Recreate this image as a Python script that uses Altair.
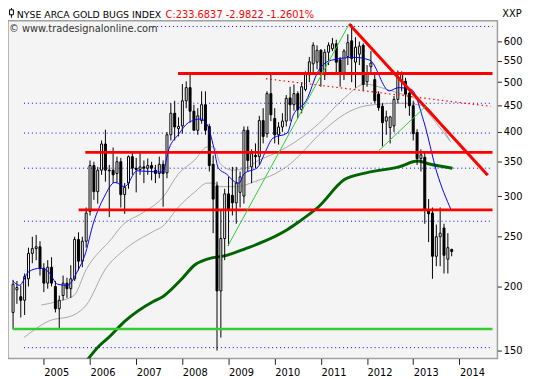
import altair as alt
import pandas as pd

# ---------------- data ----------------
months = [p.strftime("%Y-%m") for p in pd.period_range("2004-05", "2013-11", freq="M")]

opens = [178, 197, 191, 188, 207, 232, 237, 239,
         217, 203, 218, 200, 181, 192, 203, 198, 207, 247, 224, 245,
         280, 344, 306, 337, 379, 337, 337, 332, 350, 302, 318, 358,
         340, 338, 342, 340, 344, 337, 332, 346, 333, 395, 435, 406,
         411, 460, 488, 439, 403, 421, 452, 410, 346, 314, 196, 248,
         303, 301, 291, 305, 300, 403, 342, 360, 358, 421, 397, 475,
         425, 395, 409, 420, 466, 452, 475, 442, 484, 517, 543, 547,
         577, 517, 572, 581, 594, 553, 521, 561, 602, 547, 567, 590,
         501, 536, 506, 474, 449, 420, 408, 411, 463, 501, 502, 476,
         450, 399, 355, 357, 282, 278, 229, 250, 260, 226, 236]
highs = [206, 205, 201, 212, 238, 250, 252, 245,
         222, 225, 228, 205, 192, 210, 208, 220, 250, 255, 250, 285,
         352, 350, 342, 385, 404, 345, 373, 358, 356, 318, 360, 365,
         356, 365, 352, 355, 350, 345, 358, 352, 400, 455, 460, 427,
         496, 502, 518, 452, 445, 480, 480, 415, 360, 320, 282, 310,
         327, 342, 342, 335, 410, 410, 370, 380, 430, 445, 480, 518,
         445, 418, 435, 472, 490, 495, 480, 500, 525, 560, 598, 590,
         580, 580, 598, 610, 605, 560, 580, 620, 649, 612, 600, 595,
         540, 575, 520, 480, 455, 440, 430, 470, 527, 525, 510, 480,
         460, 405, 370, 365, 296, 285, 264, 285, 265, 254, 237]
lows = [165, 185, 174, 176, 200, 222, 225, 210,
        195, 198, 200, 178, 166, 188, 190, 190, 205, 215, 218, 238,
        275, 295, 290, 330, 320, 273, 318, 318, 285, 277, 310, 330,
        305, 330, 318, 330, 322, 318, 325, 286, 325, 385, 385, 392,
        397, 445, 417, 405, 395, 415, 395, 335, 254, 150, 159, 225,
        240, 275, 265, 285, 290, 335, 318, 340, 345, 380, 390, 420,
        380, 378, 400, 410, 420, 440, 425, 435, 480, 500, 520, 530,
        490, 505, 540, 575, 520, 490, 505, 540, 500, 488, 540, 480,
        490, 520, 455, 440, 375, 395, 380, 400, 455, 480, 445, 430,
        385, 345, 335, 265, 244, 207, 219, 219, 212, 212, 229]
closes = [202, 199, 188, 209, 232, 237, 239, 217,
          203, 218, 203, 181, 188, 203, 198, 207, 247, 224, 245, 278,
          344, 306, 337, 379, 337, 336, 330, 350, 302, 312, 358, 340,
          338, 342, 340, 344, 340, 332, 346, 332, 395, 435, 409, 410,
          460, 488, 439, 403, 430, 452, 403, 344, 296, 196, 248, 303,
          282, 291, 318, 327, 403, 352, 363, 358, 421, 392, 475, 432,
          395, 409, 420, 465, 452, 475, 442, 490, 517, 548, 590, 577,
          524, 572, 590, 594, 547, 521, 575, 597, 556, 585, 588, 495,
          521, 545, 460, 446, 417, 428, 428, 463, 512, 518, 474, 450,
          397, 355, 361, 282, 277, 229, 250, 254, 230, 238, 234]

# moving-average style lines: (decimal year, value) points
blue_t = [2004.33, 2004.47, 2004.68, 2004.92, 2005.09, 2005.30, 2005.50, 2005.75, 2005.88,
          2006.08, 2006.30, 2006.54, 2006.75, 2007.02, 2007.57, 2007.71, 2007.92, 2008.13,
          2008.40, 2008.54, 2008.68, 2008.78, 2008.96, 2009.13, 2009.23, 2009.33, 2009.64,
          2009.78, 2009.96, 2010.27, 2010.40, 2010.68, 2010.95, 2011.23, 2011.72, 2012.06,
          2012.48, 2012.68, 2012.96, 2013.23, 2013.51, 2013.82]
blue_v = [205, 201, 214, 217, 214, 202, 201, 216, 229,
          267, 298, 319, 313, 336, 334, 371, 396, 417,
          424, 413, 373, 340, 331, 320, 318, 331, 342,
          363, 389, 398, 431, 460, 527, 552, 559, 552,
          481, 488, 484, 419, 334, 282]

gray1_t = [2004.945, 2005.30, 2005.65, 2005.92, 2006.47, 2006.68, 2007.16, 2007.575, 2007.92,
           2008.26, 2008.54, 2008.68, 2008.82, 2009.09, 2009.37, 2009.645, 2009.99, 2010.27,
           2010.95, 2011.51, 2011.96, 2012.34, 2012.68, 2013.02, 2013.23, 2013.51, 2013.82]
gray1_v = [184, 187, 192, 216, 248, 262, 279, 298, 332,
           352, 374, 374, 347, 337, 340, 352, 363, 374,
           415, 466, 496, 487, 476, 466, 446, 415, 382]

gray2_t = [2004.57, 2005.09, 2005.65, 2005.92, 2006.33, 2006.75, 2007.37, 2007.575, 2007.92,
           2008.26, 2008.54, 2008.68, 2008.82, 2009.16, 2009.645, 2009.99, 2010.27, 2011.09,
           2011.51, 2011.98, 2012.68, 2013.23, 2013.51, 2013.79]
gray2_v = [159, 171, 176, 184, 216, 236, 256, 262, 286,
           305, 318, 318, 313, 313, 322, 331, 343, 405,
           433, 450, 455, 450, 425, 385]

green_t = [2005.92, 2006.19, 2006.40, 2006.75, 2007.37, 2007.575, 2007.99, 2008.26, 2008.54,
           2008.96, 2009.37, 2009.78, 2010.27, 2010.54, 2010.95, 2011.51, 2011.98, 2012.69,
           2013.10, 2013.37, 2013.85]
green_v = [143, 153, 159, 171, 187, 191, 207, 220, 226,
           230, 237, 245, 258, 268, 286, 323, 333, 342,
           351, 346, 340]

# drawn support / resistance lines
red_levels = [520, 365, 282]
red_starts = [2007.906, 2005.898, 2005.753]
green_level = [165.3]
dotted_levels = [642, 455, 398, 340, 268, 152]
dotted_starts = [2007.37, 2004.57, 2004.57, 2004.57, 2004.57, 2004.57]
trend_red = {"t0": [2011.612], "v0": [649], "t1": [2014.614], "v1": [329.4]}
trend_red_dot = {"t0": [2009.81], "v0": [508], "t1": [2014.676], "v1": [448.7]}
trend_green = {"t0": [2008.982, 2012.254], "v0": [239.6, 367.8],
               "t1": [2011.612, 2013.268], "v1": [649, 448.7]}

year_ticks = list(range(2005, 2015))
price_ticks = [150, 200, 250, 300, 350, 400, 450, 500, 550, 600]

# ---------------- chart ----------------
X0, X1 = 2004.33, 2014.717
Y0, Y1 = 144.8, 659.0
W, H = 497, 343
FONT = "DejaVu Sans"

t_vals = [int(m[:4]) + (int(m[5:]) - 1) / 12 for m in months]
cdf = pd.DataFrame({"t": t_vals, "open": opens, "high": highs, "low": lows, "close": closes})

xs = alt.Scale(domain=[X0, X1], nice=False, zero=False)
ys = alt.Scale(type="log", domain=[Y0, Y1], nice=False)
x_axis = alt.Axis(values=year_ticks, format="d", labelAlign="left", labelPadding=3,
                  tickSize=6, domain=False, grid=False, labelFont=FONT, labelFontSize=10,
                  labelColor="black", tickColor="#222", labelBaseline="top")
y_axis = alt.Axis(orient="right", values=price_ticks, tickSize=4, labelPadding=2, domain=False,
                  grid=False, labelFont=FONT, labelFontSize=10, labelColor="black",
                  tickColor="#222")


def X(f):
    return alt.X(f, scale=xs, axis=x_axis, title=None)


def Y(f):
    return alt.Y(f, scale=ys, axis=y_axis, title=None)


def line_layer(ts, vs, color, width, clip=True):
    df = pd.DataFrame({"t": ts, "v": vs})
    return alt.Chart(df).mark_line(color=color, strokeWidth=width, clip=clip,
                                   interpolate="monotone").encode(
        x=X("t:Q"), y=Y("v:Q"))


dot_df = pd.DataFrame({"v": dotted_levels, "t0": dotted_starts, "t1": [X1] * len(dotted_levels)})
dotted = alt.Chart(dot_df).mark_rule(color="#0000ff", strokeWidth=1, strokeDash=[1, 3]).encode(
    x=X("t0:Q"), x2="t1:Q", y=Y("v:Q"))

gray1 = line_layer(gray1_t, gray1_v, "#a8a8a8", 1)
gray2 = line_layer(gray2_t, gray2_v, "#a8a8a8", 1)
green_ma = line_layer(green_t, green_v, "#006400", 3)

wicks = alt.Chart(cdf).mark_rule(color="black", strokeWidth=1).encode(
    x=X("t:Q"), y=Y("low:Q"), y2="high:Q")
bodies = alt.Chart(cdf).mark_bar(size=2, stroke="black", strokeWidth=1).encode(
    x=X("t:Q"), y=Y("open:Q"), y2="close:Q",
    fill=alt.condition("datum.close >= datum.open", alt.value("white"), alt.value("black")))

blue = line_layer(blue_t, blue_v, "#0000ff", 1)

red_df = pd.DataFrame({"v": red_levels, "t0": red_starts, "t1": [X1] * len(red_levels)})
red_h = alt.Chart(red_df).mark_rule(color="#ff0000", strokeWidth=3).encode(
    x=X("t0:Q"), x2="t1:Q", y=Y("v:Q"))
grn_df = pd.DataFrame({"v": green_level, "t0": [X0], "t1": [X1]})
green_h = alt.Chart(grn_df).mark_rule(color="#33cc33", strokeWidth=2.5).encode(
    x=X("t0:Q"), x2="t1:Q", y=Y("v:Q"))

tr = alt.Chart(pd.DataFrame(trend_red)).mark_rule(color="#ff0000", strokeWidth=3).encode(
    x=X("t0:Q"), y=Y("v0:Q"), x2="t1:Q", y2="v1:Q")
trd = alt.Chart(pd.DataFrame(trend_red_dot)).mark_rule(
    color="#ff0000", strokeWidth=1.2, strokeDash=[1.5, 3]).encode(
    x=X("t0:Q"), y=Y("v0:Q"), x2="t1:Q", y2="v1:Q")
tg = alt.Chart(pd.DataFrame(trend_green)).mark_rule(color="#33cc33", strokeWidth=1).encode(
    x=X("t0:Q"), y=Y("v0:Q"), x2="t1:Q", y2="v1:Q")

one = pd.DataFrame({"s": ["NYSE ARCA GOLD BUGS INDEX"]})
title_black = alt.Chart(one).mark_text(align="left", baseline="alphabetic", font=FONT,
                                       fontSize=9.5, color="black").encode(
    x=alt.value(9), y=alt.value(-3), text="s:N")
title_red = alt.Chart(pd.DataFrame({"s": ["C:233.6837 -2.9822 -1.2601%"]})).mark_text(
    align="left", baseline="alphabetic", font=FONT, fontSize=10, color="#ff0000").encode(
    x=alt.value(160), y=alt.value(-3), text="s:N")
icon_line = alt.Chart(one).mark_rule(color="black", strokeWidth=1).encode(
    x=alt.value(3.5), y=alt.value(-14), y2=alt.value(-3))
icon_box = alt.Chart(one).mark_rect(fill="white", stroke="black", strokeWidth=1).encode(
    x=alt.value(1.5), x2=alt.value(5.5), y=alt.value(-11), y2=alt.value(-6))
watermark = alt.Chart(pd.DataFrame({"s": ["\u00a9 www.tradesignalonline.com"]})).mark_text(
    align="left", baseline="alphabetic", font=FONT, fontSize=10, color="#333333").encode(
    x=alt.value(1), y=alt.value(12), text="s:N")
xxp = alt.Chart(pd.DataFrame({"s": ["XXP"]})).mark_text(
    align="left", baseline="alphabetic", font=FONT, fontSize=10, color="black").encode(
    x=alt.value(W + 5), y=alt.value(-4), text="s:N")

chart = alt.layer(
    dotted, gray1, gray2, green_ma, wicks, bodies, blue, red_h, green_h, tr, trd, tg,
    title_black, title_red, icon_line, icon_box, watermark, xxp
).properties(
    width=W, height=H,
    padding={"left": 0, "top": 10, "right": 28, "bottom": 18},
    autosize=alt.AutoSizeParams(type="none"),
    background="white",
).configure_view(fill="#f4f4f4", stroke="#a0a0a0", strokeWidth=1.5)

chart.save("out.html", embed_options={"renderer": "svg", "actions": False})
